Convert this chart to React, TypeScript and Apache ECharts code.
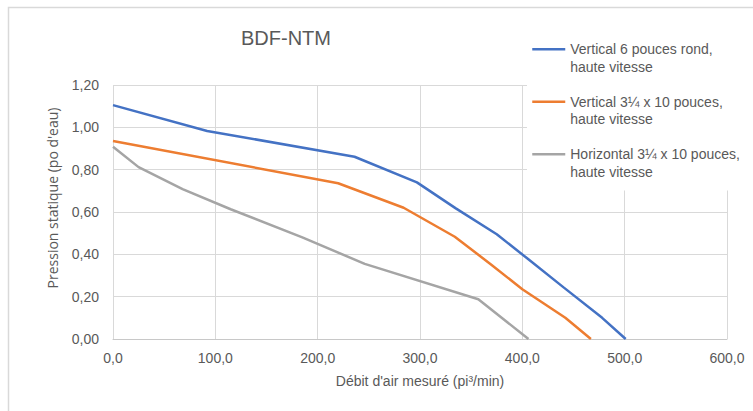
import React, { useEffect, useRef } from "react";
import * as echarts from "echarts";

const chartTitle = "BDF-NTM";
const xAxisName = "Débit d'air mesuré (pi³/min)";
const yAxisName = "Pression statique (po d'eau)";

const seriesNames = [
  "Vertical 6 pouces rond,\nhaute vitesse",
  "Vertical 3¼ x 10 pouces,\nhaute vitesse",
  "Horizontal 3¼ x 10 pouces,\nhaute vitesse",
];
const seriesColors = ["#4472C4", "#ED7D31", "#A5A5A5"];

const blueX = [0, 92, 236, 297, 335, 375, 405, 440, 478, 501];
const blueY = [1.105, 0.983, 0.861, 0.74, 0.617, 0.495, 0.38, 0.245, 0.1, 0];

const orangeX = [0, 220, 284, 334, 370, 400, 442, 467];
const orangeY = [0.935, 0.736, 0.62, 0.483, 0.35, 0.235, 0.1, 0];

const grayX = [0, 25, 68, 115, 185, 246, 357, 406];
const grayY = [0.908, 0.812, 0.708, 0.613, 0.48, 0.355, 0.188, 0];

const xTicks = { min: 0, max: 600, interval: 100 };
const yTicks = { min: 0, max: 1.2, interval: 0.2 };

const pairs = (xs: number[], ys: number[]) => xs.map((x, i) => [x, ys[i]]);

export default function App() {
  const ref = useRef<HTMLDivElement>(null);
  useEffect(() => {
    if (!ref.current) return;
    const chart = echarts.init(ref.current, null, { renderer: "svg" });
    const dataSets = [pairs(blueX, blueY), pairs(orangeX, orangeY), pairs(grayX, grayY)];
    const textColor = "#595959";
    chart.setOption({
      animation: false,
      backgroundColor: "#ffffff",
      graphic: [
        {
          type: "rect",
          shape: { x: 8.5, y: 7.5, width: 800, height: 500 },
          style: { fill: "none", stroke: "#D9D9D9", lineWidth: 1.5 },
          z: -10,
          silent: true,
        },
      ],
      title: {
        text: chartTitle,
        left: 241,
        top: 28,
        padding: 0,
        textStyle: {
          fontFamily: "Liberation Sans",
          fontSize: 20,
          fontWeight: "normal",
          color: textColor,
        },
      },
      legend: {
        orient: "vertical",
        left: 527,
        top: 18,
        padding: [5, 5, 10, 4],
        itemGap: 0,
        itemWidth: 33,
        itemHeight: 14,
        backgroundColor: "#ffffff",
        data: seriesNames,
        itemStyle: { opacity: 0 },
        lineStyle: { width: 2.5 },
        formatter: (name: string) => "\n" + name,
        textStyle: {
          fontFamily: "Liberation Sans",
          fontSize: 14,
          lineHeight: 17.5,
          color: textColor,
        },
      },
      grid: { left: 113, right: 26, top: 85, bottom: 72, containLabel: false },
      xAxis: {
        type: "value",
        min: xTicks.min,
        max: xTicks.max,
        interval: xTicks.interval,
        name: xAxisName,
        nameLocation: "middle",
        nameGap: 35,
        nameTextStyle: { fontFamily: "Liberation Sans", fontSize: 14, color: textColor },
        axisLine: { show: true, lineStyle: { color: "#C8C8C8", width: 1 } },
        axisTick: { show: false },
        axisLabel: {
          margin: 12,
          fontFamily: "Liberation Sans",
          fontSize: 14,
          color: textColor,
          formatter: (v: number) => v.toFixed(1).replace(".", ","),
        },
        splitLine: { show: true, lineStyle: { color: "#D9D9D9", width: 1 } },
      },
      yAxis: {
        type: "value",
        min: yTicks.min,
        max: yTicks.max,
        interval: yTicks.interval,
        name: yAxisName,
        nameLocation: "middle",
        nameGap: 54,
        nameTextStyle: {
          fontFamily: "Open Sans",
          fontSize: 14,
          color: textColor,
          padding: [0, 0, 0, 28],
        },
        axisLine: { show: false },
        axisTick: { show: false },
        axisLabel: {
          margin: 14,
          fontFamily: "Liberation Sans",
          fontSize: 14,
          color: textColor,
          formatter: (v: number) => v.toFixed(2).replace(".", ","),
        },
        splitLine: { show: true, lineStyle: { color: "#D9D9D9", width: 1 } },
      },
      series: seriesNames.map((name, i) => ({
        name,
        type: "line",
        data: dataSets[i],
        symbol: "none",
        showSymbol: false,
        smooth: false,
        color: seriesColors[i],
        lineStyle: { color: seriesColors[i], width: 2.5 },
        z: 3 - i,
      })),
    });
    return () => chart.dispose();
  }, []);
  return (
    <div
      ref={ref}
      style={{ position: "fixed", left: 0, top: 0, width: 753, height: 411 }}
    />
  );
}
